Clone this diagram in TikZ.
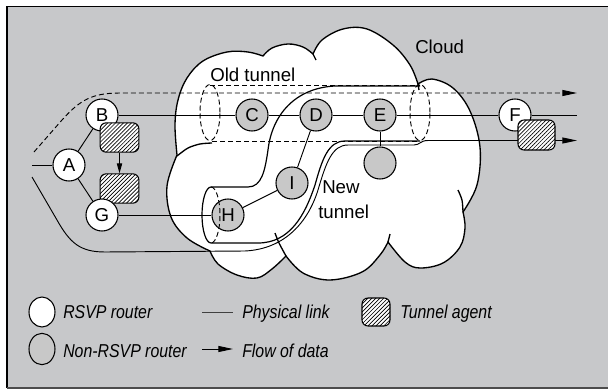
\documentclass[tikz,border=0pt]{standalone}
\usepackage{fontspec}
\setmainfont{Liberation Sans}
\newfontfamily\legfont[FakeStretch=0.85]{Liberation Sans}
\usetikzlibrary{arrows.meta,patterns.meta,shapes.geometric}
\definecolor{bggray}{RGB}{199,200,202}
\definecolor{nodegray}{RGB}{200,200,200}
\pgfdeclarelayer{back}
\pgfdeclarelayer{cloudl}
\pgfdeclarelayer{links}
\pgfsetlayers{back,cloudl,links,main}
\begin{document}
\begin{tikzpicture}[x=0.75pt,y=-0.75pt,
  rsvp/.style={circle,draw,line width=0.8pt,fill=white,minimum size=24pt,inner sep=0pt,font=\fontsize{14}{16}\selectfont},
  nonrsvp/.style={rsvp,fill=nodegray},
  agent/.style={draw,line width=0.8pt,rounded corners=4.5pt,fill=white,minimum width=29pt,minimum height=22pt,inner sep=0pt,
     postaction={pattern={Lines[angle=45,distance=2.1pt,line width=0.5pt]}}},
  link/.style={line width=0.7pt},
  oldt/.style={line width=0.7pt,dash pattern=on 3.75pt off 2.25pt},
  tunline/.style={line width=0.9pt},
  cloudline/.style={line width=1pt},
  ftip/.style={-{Triangle[length=11pt,width=4.5pt]}},
  lbl/.style={inner sep=0pt,anchor=base west,font=\fontsize{14}{16}\selectfont},
  leg/.style={inner sep=0pt,anchor=base west,font=\fontsize{14}{16}\legfont\itshape}
]
\useasboundingbox (0,0) rectangle (608,389);

% frame
\begin{pgfonlayer}{back}
\fill[bggray] (7,6) rectangle (610,388);
\draw[line width=1.2pt] (610,6.5) -- (7,6.5) -- (7,388);
\draw[line width=1.2pt,black!70] (7,388) -- (610,388);
\end{pgfonlayer}

% cloud
\begin{pgfonlayer}{cloudl}
\path[fill=white,draw=black,cloudline] (177,155)
 -- plot[smooth,tension=0.6] coordinates {(177,155) (175,125) (178,100) (187,78) (203,61) (227,52) (248,52) (263,56)}
 -- plot[smooth,tension=0.6] coordinates {(263,56) (272,48) (288,44) (303,47) (313,54)}
 -- plot[smooth,tension=0.6] coordinates {(313,54) (322,40) (343,29) (367,29) (393,45) (410,65) (418,84)}
 -- plot[smooth,tension=0.6] coordinates {(418,84) (432,79) (453,88) (470,111) (480,147) (477,185) (463,212)}
 -- plot[smooth,tension=0.6] coordinates {(463,212) (465,228) (460,247) (443,263) (420,268) (405,262) (388,242)}
 -- plot[smooth,tension=0.6] coordinates {(388,242) (380,255) (362,272) (330,280) (303,273) (286,256)}
 -- plot[smooth,tension=0.6] coordinates {(286,256) (272,269) (257,278) (237,275) (218,264) (210,251)}
 -- plot[smooth,tension=0.6] coordinates {(210,251) (187,238) (171,217) (167,186) (177,155)}
 -- cycle;
% tucks
\draw[cloudline] plot[smooth] coordinates {(177,156) (188,148) (200,144) (212,143)};
\draw[cloudline] plot[smooth] coordinates {(286,256) (279,243) (275,233)};
\draw[cloudline] plot[smooth] coordinates {(463,212) (462,200) (458,190)};
\draw[cloudline] plot[smooth] coordinates {(388,242) (390,234)};
\draw[cloudline] (418,84) -- (419,90);
\draw[cloudline] (313,54) -- (316,60);
\end{pgfonlayer}

% nodes
\node[rsvp] (A) at (69,165) {A};
\node[rsvp] (B) at (102,115) {B};
\node[agent] (T1) at (119.5,137.5) {};
\node[agent] (T2) at (119.5,188.5) {};
\node[rsvp] (G) at (102,215) {G};
\node[nonrsvp] (C) at (252,115) {C};
\node[nonrsvp] (D) at (316,115) {D};
\node[nonrsvp] (E) at (380,115) {E};
\node[nonrsvp] (X) at (380,163) {};
\node[nonrsvp] (I) at (292,183) {I};
\node[nonrsvp] (H) at (228,215) {H};
\node[rsvp] (F) at (515,115) {F};
\node[agent,minimum width=27.75pt,minimum height=22.5pt] (T3) at (536.5,135) {};

\coordinate (Lstub) at (32,165);
\coordinate (Fend) at (577,115);
\coordinate (dstart) at (34,152);
\coordinate (dend) at (577,93);
\coordinate (sstart) at (32,177);
\coordinate (send) at (577,140.5);

\begin{pgfonlayer}{links}
% old tunnel
\draw[oldt] (210,85) -- (420,85);
\draw[oldt] (212,141) -- (420,141);
\draw[oldt] (210,112.5) ellipse[x radius=7.5pt,y radius=21pt];
\draw[oldt] (420,112.5) ellipse[x radius=7.5pt,y radius=21pt];
% new tunnel
\draw[tunline] (211,187) -- (248,187) .. controls (262,187) and (265,170) .. (268,150)
   .. controls (272,115) and (295,88) .. (335,86) -- (420,86);
\draw[tunline] (211,243) -- (258,243) .. controls (290,243) and (305,215) .. (315,185)
   .. controls (322,160) and (328,141) .. (345,141) -- (420,141);
\draw[tunline] (211,187) arc[start angle=90,end angle=270,x radius=6.75pt,y radius=21pt];
% flows
\draw[oldt,ftip] (dstart) -- (62,120) .. controls (80,100) and (92,93) .. (120,93) -- (dend);
\draw[link,ftip] (sstart) -- (57,220) .. controls (70,243) and (80,252) .. (105,252) -- (245,251)
   .. controls (285,249) and (308,222) .. (318,190) .. controls (326,163) and (332,145) .. (348,145)
   -- (414,145) .. controls (420,145) and (420,140.5) .. (428,140.5) -- (send);
% physical links
\draw[link] (Lstub) -- (A);
\draw[link] (A) -- (B);
\draw[link] (A) -- (G);
\draw[link] (B) -- (C) -- (D) -- (E) -- (F) -- (Fend);
\draw[link] (G) -- (H);
\draw[link] (H) -- (I);
\draw[link] (I) -- (D);
\draw[link] (E) -- (X);
\end{pgfonlayer}

\draw[link,-{Triangle[length=7.5pt,width=4pt]}] (T1) -- (T2);
\draw[oldt] (211,187) arc[start angle=90,end angle=-90,x radius=6.75pt,y radius=21pt];

% labels
\node[lbl] (lcloud) at (415,53) {Cloud};
\node[lbl] (lold) at (210,81) {Old tunnel};
\node[lbl] (lnew1) at (322,193) {New};
\node[lbl] (lnew2) at (318,218) {tunnel};

% legend
\node[ellipse,draw,line width=0.8pt,fill=white,minimum width=19.5pt,minimum height=22.5pt,inner sep=0pt] (LR) at (42,312) {};
\node[ellipse,draw,line width=0.8pt,fill=nodegray,minimum width=19.5pt,minimum height=23.5pt,inner sep=0pt] (LN) at (42,349) {};
\node[leg] (tLR) at (63,318) {RSVP router};
\node[leg] (tLN) at (63,357) {Non-RSVP router};
\coordinate (PL1) at (202,312);
\coordinate (PL2) at (233,312);
\draw[link,black!75] (PL1) -- (PL2);
\node[leg] (tPL) at (242,318) {Physical link};
\coordinate (FA1) at (202,349);
\coordinate (FA2) at (233,349);
\draw[link,ftip] (FA1) -- (FA2);
\node[leg] (tFA) at (242,357) {Flow of data};
\node[agent,minimum width=21pt,minimum height=21pt] (LT) at (376,312) {};
\node[leg] (tLT) at (400,318) {Tunnel agent};
\end{tikzpicture}
\end{document}
